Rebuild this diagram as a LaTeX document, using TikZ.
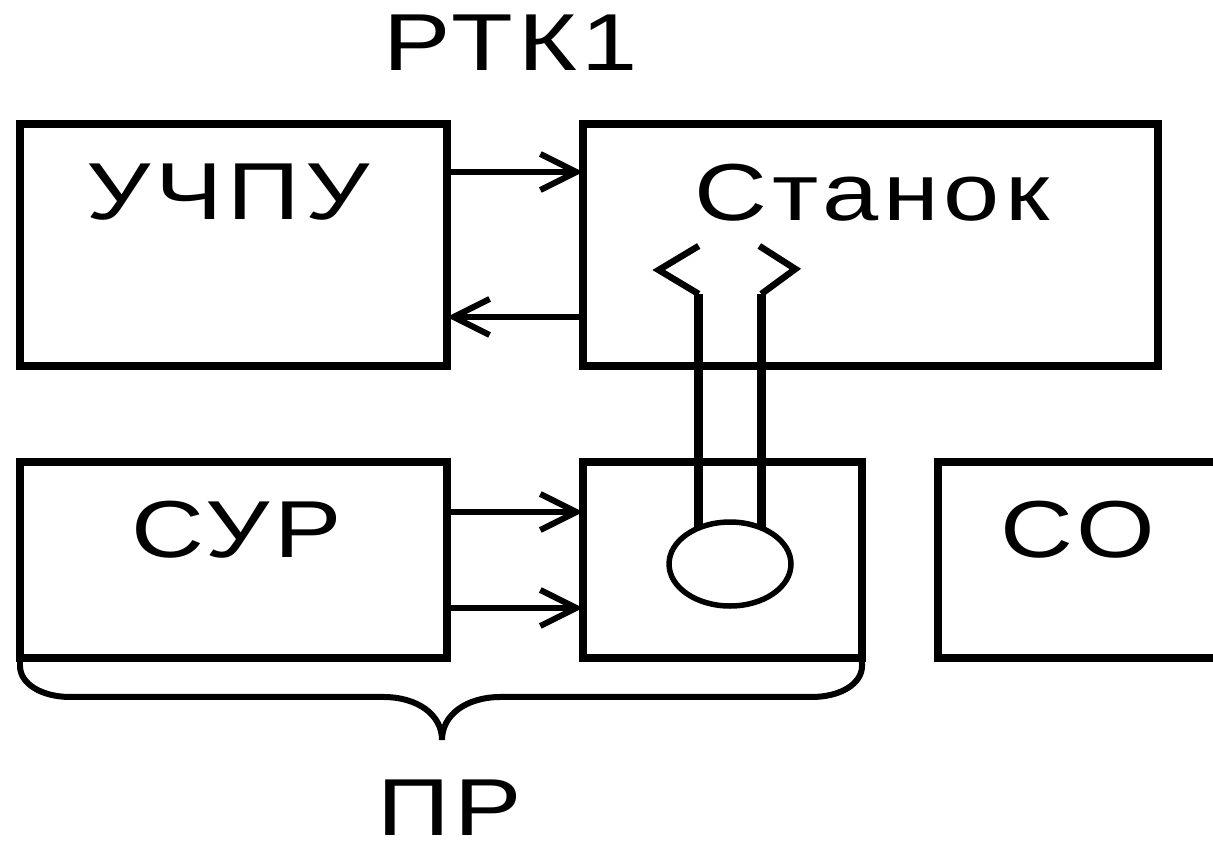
\documentclass[tikz,border=0pt]{standalone}
\usepackage{fontspec}
\setmainfont{Liberation Sans}
\newfontfamily\schfont[FakeStretch=1.25,LetterSpace=6]{Liberation Sans}
\usetikzlibrary{arrows.meta, positioning, shapes.geometric}

\begin{document}
\begin{tikzpicture}[
    x=0.02cm, y=-0.02cm,
    blk/.style={draw, line width=0.155cm, anchor=north west, inner sep=0pt, outer sep=0pt},
    lbl/.style={anchor=base, inner sep=0pt, font={\schfont\fontsize{46}{50}\selectfont}},
    arr/.style={-{Straight Barb[length=0.72cm, width=0.72cm, line width=0.12cm]}, line width=0.12cm},
    rod/.style={line width=0.19cm},
    jaw/.style={line width=0.13cm, line join=miter},
    brc/.style={line width=0.12cm}
  ]
    \clip (0,0) rectangle (1213,846);

    \node[blk, minimum width=8.54cm, minimum height=4.84cm] (uchpu) at (20,124) {};
    \node[blk, minimum width=11.5cm, minimum height=4.84cm] (stanok) at (583,124) {};
    \node[blk, minimum width=8.54cm, minimum height=3.92cm] (sur) at (20,462) {};
    \node[blk, minimum width=5.58cm, minimum height=3.92cm] (gbox) at (583,462) {};
    \node[blk, minimum width=6cm, minimum height=3.92cm] (co) at (938,462) {};

    \node[lbl] (trtk) at (511,70) {РТК1};
    \node[lbl] (tuchpu) at (228,219) {УЧПУ};
    \node[lbl] (tstanok) at (872,220) {Станок};
    \node[lbl] (tsur) at (237,557) {СУР};
    \node[lbl] (tco) at (1078,557) {СО};
    \node[lbl] (tpr) at (450,835) {ПР};

    \draw[arr] ([yshift=-0.96cm]uchpu.north east) -- ([yshift=-0.96cm]stanok.north west);
    \draw[arr] ([yshift=0.98cm]stanok.south west) -- ([yshift=0.98cm]uchpu.south east);
    \draw[arr] ([yshift=-1cm]sur.north east) -- ([yshift=-1cm]gbox.north west);
    \draw[arr] ([yshift=1cm]sur.south east) -- ([yshift=1cm]gbox.south west);

    % gripper
    \node[draw, ellipse, line width=0.11cm, fill=white, minimum width=2.44cm, minimum height=1.68cm,
      inner sep=0pt, outer sep=0pt] (grip) at (730,564) {};
    \draw[rod] (grip.131) -- ++(0,-234) coordinate (jl);
    \draw[rod] (grip.49) -- ++(0,-234) coordinate (jr);
    \draw[jaw] (jl) -- ++(-40,-24) -- ++(40,-24);
    \draw[jaw] (jr) -- ++(34,-25) -- ++(-36,-23);

    % brace
    \draw[brc] (sur.south west) -- ++(0,8)
      .. controls +(0,18) and +(-28,0) .. ++(50,31)
      -- ++(313,0)
      .. controls +(35,0) and +(0,-25) .. ++(59,43)
      .. controls +(0,-25) and +(-35,0) .. ++(59,-43)
      -- ++(311,0)
      .. controls +(28,0) and +(0,18) .. ++(50,-31)
      -- (gbox.south east);
  \end{tikzpicture}
\end{document}
